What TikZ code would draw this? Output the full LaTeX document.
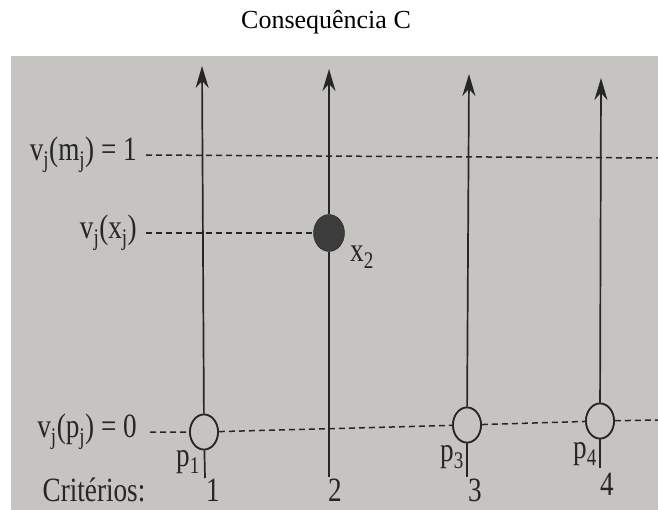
\documentclass[tikz,border=0pt]{standalone}
\usepackage{fontspec}
\setmainfont{Liberation Serif}
\newfontfamily\bookfont[FakeStretch=0.8]{Liberation Serif}
\usepackage{xcolor}
\usetikzlibrary{shapes.geometric,arrows.meta}
\definecolor{paper}{RGB}{198,196,192}
\definecolor{ink}{RGB}{38,38,38}

\begin{document}
\begin{tikzpicture}[x=1pt,y=-1pt,
  axis/.style={ink,line width=1.7pt},
  axisarrow/.style={axis,-{Stealth[length=22pt,width=13pt]}},
  level/.style={ink,line width=1.5pt,dash pattern=on 6pt off 4pt},
  pt/.style={ellipse,draw=ink,line width=1.7pt,fill=paper,minimum width=28pt,minimum height=35pt,inner sep=0pt},
  lbl/.style={ink,font=\bookfont\fontsize{34}{36}\selectfont,inner sep=1pt}]
  \useasboundingbox (0,0) rectangle (658,510);
  \fill[paper] (11,56) rectangle (658,510);
  \node[font=\fontsize{26}{30}\selectfont] (title) at (326,22) {Consequência C};

  % niveis
  \node[lbl,anchor=east] (lm) at (138,155) {v\textsubscript{j}(m\textsubscript{j}) = 1};
  \node[lbl,anchor=east] (lx) at (138,233) {v\textsubscript{j}(x\textsubscript{j})};
  \node[lbl,anchor=east] (lp) at (138,432) {v\textsubscript{j}(p\textsubscript{j}) = 0};
  \coordinate (m0) at (146,155);
  \coordinate (m1) at (658,158);
  \coordinate (x0) at (146,233);
  \coordinate (p0) at (150,432);
  \coordinate (p9) at (658,420);

  \node[pt] (c1) at (204,432) {};
  \node[pt] (c3) at (467,425) {};
  \node[pt] (c4) at (600,421) {};
  \node[ellipse,fill=ink!90,draw=ink,minimum width=31pt,minimum height=37pt,inner sep=0pt] (c2) at (329,233) {};

  \draw[level] (m0) -- (m1);
  \draw[level] (x0) -- (c2);
  \draw[level] (p0) -- (c1) -- (c3) -- (c4) -- (p9);

  % eixos
  \coordinate (t1) at (202,66);
  \coordinate (t2) at (329,69);
  \coordinate (t3) at (469,74);
  \coordinate (t4) at (601,78);
  \coordinate (b1) at (205,478);
  \coordinate (b2) at (329,477);
  \coordinate (b3) at (467,477);
  \coordinate (b4) at (600,468);
  \draw[axisarrow] (c1) -- (t1);
  \draw[axis] (c1) -- (b1);
  \draw[axisarrow] (b2) -- (c2) -- (t2);
  \draw[axisarrow] (c3) -- (t3);
  \draw[axis] (c3) -- (b3);
  \draw[axisarrow] (c4) -- (t4);
  \draw[axis] (c4) -- (b4);
  \node[pt] at (c1) {};
  \node[pt] at (c3) {};
  \node[pt] at (c4) {};

  \node[lbl] (x2) at (362,257) {x\textsubscript{2}};
  \node[lbl] (p1) at (188,462) {p\textsubscript{1}};
  \node[lbl] (p3) at (452,457) {p\textsubscript{3}};
  \node[lbl] (p4) at (585,454) {p\textsubscript{4}};

  \node[lbl] (crit) at (94,490) {Critérios:};
  \node[lbl] (n1) at (213,490) {1};
  \node[lbl] (n2) at (335,490) {2};
  \node[lbl] (n3) at (475,490) {3};
  \node[lbl] (n4) at (607,484) {4};
\end{tikzpicture}
\end{document}
